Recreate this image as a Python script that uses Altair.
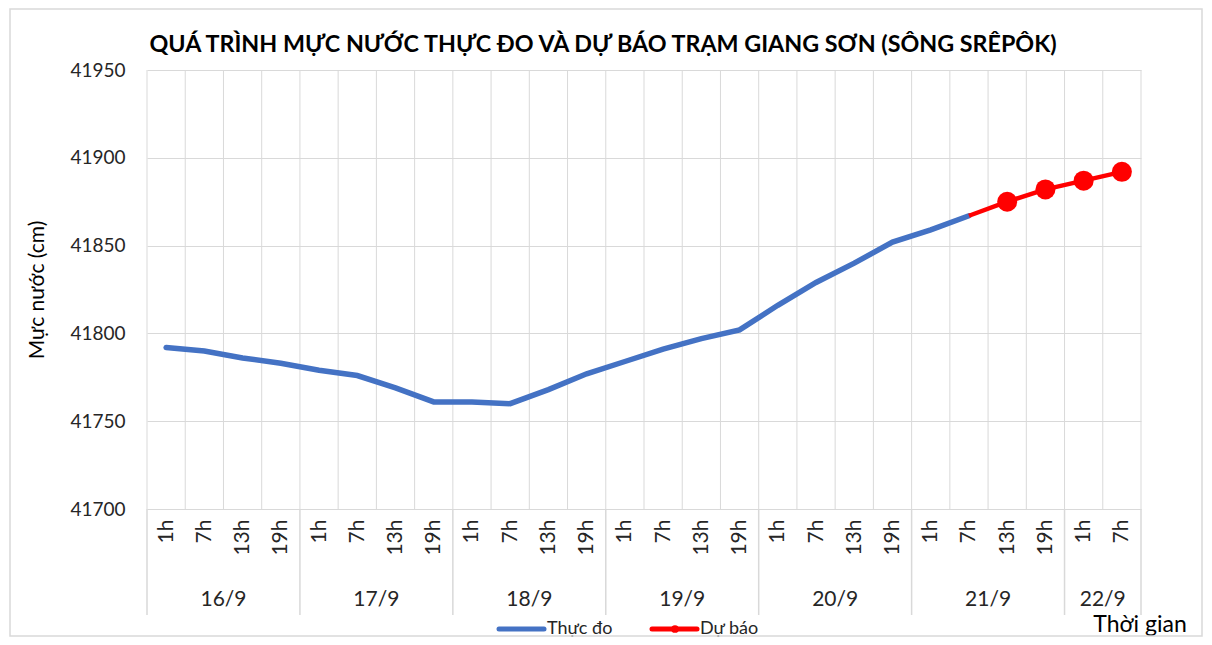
import altair as alt
import pandas as pd

# ---- data ----
days = ["16/9", "17/9", "18/9", "19/9", "20/9", "21/9", "22/9"]
hours_per_day = [4, 4, 4, 4, 4, 4, 2]
hour_names = ["1h", "7h", "13h", "19h"]
observed = [41792, 41790, 41786, 41783, 41779, 41776, 41769, 41761,
            41761, 41760, 41768, 41777, 41784, 41791, 41797, 41802,
            41816, 41829, 41840, 41852, 41859, 41867]
forecast_index = [21, 22, 23, 24, 25]
forecast = [41867, 41875, 41882, 41887, 41892]
forecast_marker = [False, True, True, True, True]

FONT = "Lato"
TXT = "#262626"
GRID = "#d9d9d9"
W, H = 994, 439

hours = []
for d, n in zip(days, hours_per_day):
    for k in range(n):
        hours.append(hour_names[k])
N = len(hours)

obs_df = pd.DataFrame({"pos": [i + 0.5 for i in range(len(observed))],
                       "value": observed})
fc_df = pd.DataFrame({"pos": [i + 0.5 for i in forecast_index],
                      "value": forecast, "marker": forecast_marker})

bounds = pd.DataFrame({"b": list(range(N + 1))})
starts = [0]
for n in hours_per_day:
    starts.append(starts[-1] + n)
day_bounds = pd.DataFrame({"b": starts})
day_mid = pd.DataFrame({"mid": [starts[i] + hours_per_day[i] / 2 for i in range(len(days))],
                        "day": days})

xscale = alt.Scale(domain=[0, N], nice=False, zero=False)
yscale = alt.Scale(domain=[41700, 41950], nice=False, zero=False)

label_expr = "[" + ",".join("'%s'" % h for h in hours) + "][floor(datum.value)]"

xaxis = alt.Axis(values=[i + 0.5 for i in range(N)], labelExpr=label_expr,
                 labelAngle=270, labelFont=FONT, labelFontSize=21,
                 labelColor=TXT, labelPadding=10, ticks=False, domain=False,
                 grid=False, title=None, labelOverlap=False)
yaxis = alt.Axis(values=[41700, 41750, 41800, 41850, 41900, 41950],
                 format="d", labelFont=FONT, labelFontSize=19, labelColor=TXT,
                 labelPadding=22, ticks=False, domain=False, grid=True,
                 gridColor=GRID, title="Mực nước (cm)", titleFont=FONT,
                 titleFontSize=21, titleFontWeight="normal", titleColor="#000000",
                 titlePadding=22)

X = lambda f: alt.X(f, scale=xscale, axis=xaxis)
Y = lambda f: alt.Y(f, scale=yscale, axis=yaxis)

vgrid = alt.Chart(bounds).mark_rule(color=GRID, strokeWidth=1).encode(
    x=X("b:Q"), y=alt.value(0), y2=alt.value(H))

obs_line = alt.Chart(obs_df).mark_line(color="#4472C4", strokeWidth=5.5, strokeCap="round").encode(
    x=X("pos:Q"), y=Y("value:Q"))

fc_line = alt.Chart(fc_df).mark_line(color="#FF0000", strokeWidth=4.5).encode(
    x=X("pos:Q"), y=Y("value:Q"))

fc_pts = alt.Chart(fc_df).transform_filter("datum.marker").mark_circle(
    color="#FF0000", opacity=1, size=400).encode(x=X("pos:Q"), y=Y("value:Q"))

day_sep = alt.Chart(day_bounds).mark_rule(color=GRID, strokeWidth=1.5).encode(
    x=X("b:Q"), y=alt.value(H), y2=alt.value(H + 106))

day_txt = alt.Chart(day_mid).mark_text(font=FONT, fontSize=21, color=TXT,
                                       baseline="middle").encode(
    x=X("mid:Q"), text="day:N", y=alt.value(H + 91))

def txt(s, x, y, size, weight="normal", align="center", color="#000000"):
    return alt.Chart(pd.DataFrame({"t": [s]})).mark_text(
        font=FONT, fontSize=size, fontWeight=weight, color=color, align=align,
        baseline="middle").encode(text="t:N", x=alt.value(x), y=alt.value(y))

title = txt("QUÁ TRÌNH MỰC NƯỚC THỰC ĐO VÀ DỰ BÁO TRẠM GIANG SƠN (SÔNG SRÊPÔK)",
            456, -25, 23.3, weight="bold")

dummy = pd.DataFrame({"a": [0]})
leg_blue = alt.Chart(dummy).mark_rule(strokeWidth=5, strokeCap="round", color="#4472C4").encode(
    x=alt.value(352), x2=alt.value(397), y=alt.value(H + 120))
leg_red = alt.Chart(dummy).mark_rule(strokeWidth=5, strokeCap="round", color="#FF0000").encode(
    x=alt.value(505), x2=alt.value(550), y=alt.value(H + 120))
leg_dot = alt.Chart(dummy).mark_circle(color="#FF0000", opacity=1, size=60).encode(
    x=alt.value(528), y=alt.value(H + 120))
leg_t1 = txt("Thực đo", 400, H + 120, 18, align="left", color=TXT)
leg_t2 = txt("Dự báo", 553, H + 120, 18, align="left", color=TXT)

xtitle = txt("Thời gian", 993, H + 116, 23)

border = alt.Chart(dummy).mark_rect(fill=None, stroke=GRID, strokeWidth=1.5).encode(
    x=alt.value(-137), x2=alt.value(1055), y=alt.value(-61), y2=alt.value(H + 127))

chart = alt.layer(vgrid, obs_line, fc_line, fc_pts, day_sep, day_txt, title,
                  leg_blue, leg_red, leg_dot, leg_t1, leg_t2, xtitle, border).properties(
    width=W, height=H,
    padding={"left": 139, "top": 62, "right": 62, "bottom": 128},
    autosize=alt.AutoSizeParams(type="none"),
).configure_view(stroke=None)

chart.save("out.html", embed_options={"renderer": "svg", "actions": False})
